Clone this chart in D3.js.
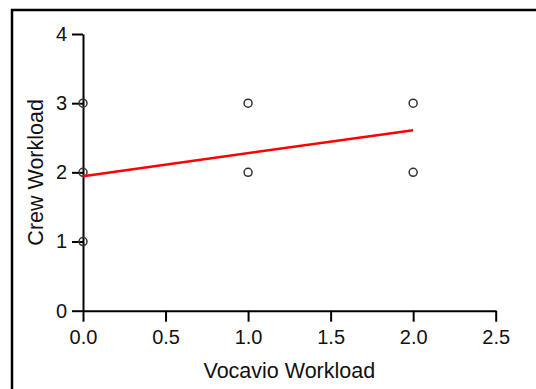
<!DOCTYPE html>
<html lang="en">
<head>
    <meta charset="UTF-8">
    <title>Crew vs Vocavio Workload</title>
    <script src="https://d3js.org/d3.v7.min.js"></script>
    <style>
        body { margin: 0; background: #fff; }
        text { font-family: Arial, "Liberation Sans", sans-serif; fill: #111; }
    </style>
</head>
<body>
<script>
    const width  = 536;
    const height = 389;

    // observations
    const vocavio = [0, 0, 0, 1, 1, 2, 2];
    const crew    = [3, 2, 1, 3, 2, 3, 2];

    // fitted regression line (ends)
    const fitX = [0, 2];
    const fitY = [1.945, 2.61];

    const xTicks = [0, 0.5, 1, 1.5, 2, 2.5];
    const yTicks = [0, 1, 2, 3, 4];

    const scaleX = d3.scaleLinear().domain([0, 2.5]).range([83, 495.7]);
    const scaleY = d3.scaleLinear().domain([0, 4]).range([310.7, 34]);

    const svg = d3.select("body").append("svg").attr("width", width).attr("height", height);

    // frame around the figure
    svg.append("rect")
        .attr("x", 12).attr("y", 10)
        .attr("width", width).attr("height", height)
        .attr("fill", "none").attr("stroke", "#000").attr("stroke-width", 2.5);

    const xAxis = d3.axisBottom(scaleX).tickValues(xTicks).tickFormat(d3.format(".1f"))
            .tickSize(11).tickSizeOuter(0).tickPadding(8);
    const yAxis = d3.axisLeft(scaleY).tickValues(yTicks).tickFormat(d3.format("d"))
            .tickSize(11).tickSizeOuter(0).tickPadding(5);

    const gx = svg.append("g").attr("transform", "translate(" + [0, scaleY(0)] + ")").call(xAxis);
    const gy = svg.append("g").attr("transform", "translate(" + [scaleX(0), 0] + ")").call(yAxis);

    [gx, gy].forEach(g => {
        g.selectAll("path, line").attr("stroke", "#000").attr("stroke-width", 2);
        g.selectAll("text").style("font-size", "20px").attr("fill", "#111");
    });

    // points
    svg.append("g").selectAll("circle")
        .data(d3.zip(vocavio, crew)).enter()
        .append("circle")
        .attr("cx", d => scaleX(d[0]))
        .attr("cy", d => scaleY(d[1]))
        .attr("r", 4)
        .attr("fill", "none")
        .attr("stroke", "#333")
        .attr("stroke-width", 1.5);

    // fit line
    svg.append("path")
        .datum(d3.zip(fitX, fitY))
        .attr("d", d3.line().x(d => scaleX(d[0])).y(d => scaleY(d[1])))
        .attr("fill", "none")
        .attr("stroke", "#ff0000")
        .attr("stroke-width", 2.5);

    // axis titles
    svg.append("text")
        .attr("x", (scaleX.range()[0] + scaleX.range()[1]) / 2)
        .attr("y", 378)
        .attr("text-anchor", "middle")
        .style("font-size", "21.5px")
        .text("Vocavio Workload");

    svg.append("text")
        .attr("transform", "translate(43," + (scaleY.range()[0] + scaleY.range()[1]) / 2 + ") rotate(-90)")
        .attr("text-anchor", "middle")
        .style("font-size", "21.5px")
        .text("Crew Workload");
</script>
</body>
</html>
